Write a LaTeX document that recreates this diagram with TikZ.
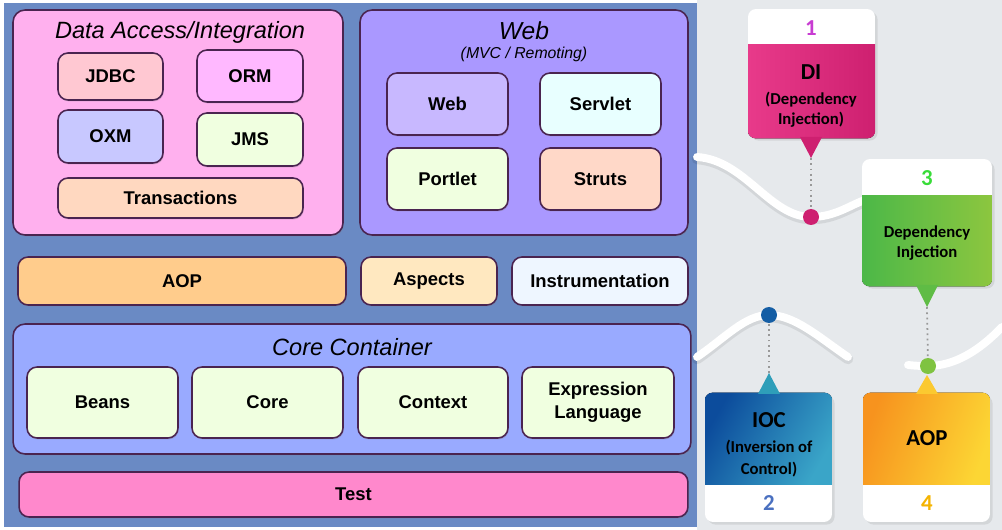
\documentclass[tikz,border=0pt]{standalone}
\usepackage{fontspec}
\setmainfont{Liberation Sans}
\newfontfamily\callfont{Carlito}
\usepackage{tikz}
\usetikzlibrary{positioning, shadows, calc}
% left panel
\definecolor{panelbg}{RGB}{106,138,196}
\definecolor{edge}{RGB}{74,36,80}
\definecolor{dataouter}{RGB}{255,176,238}
\definecolor{webouter}{RGB}{170,152,255}
\definecolor{jdbcfill}{RGB}{255,200,210}
\definecolor{ormfill}{RGB}{255,184,255}
\definecolor{oxmfill}{RGB}{200,200,255}
\definecolor{paleg}{RGB}{240,255,224}
\definecolor{transfill}{RGB}{255,216,192}
\definecolor{webfill}{RGB}{200,184,255}
\definecolor{servletfill}{RGB}{232,255,255}
\definecolor{strutsfill}{RGB}{255,216,200}
\definecolor{aopfill}{RGB}{255,204,140}
\definecolor{aspectsfill}{RGB}{255,232,192}
\definecolor{instrfill}{RGB}{238,246,255}
\definecolor{corefill}{RGB}{153,170,255}
\definecolor{testfill}{RGB}{255,136,204}
% right panel
\definecolor{rightbg}{RGB}{230,233,236}
\definecolor{pinkA}{RGB}{232,58,138}
\definecolor{pinkB}{RGB}{206,32,112}
\definecolor{greenA}{RGB}{76,184,72}
\definecolor{greenB}{RGB}{140,198,63}
\definecolor{blueA}{RGB}{12,76,156}
\definecolor{blueB}{RGB}{58,165,200}
\definecolor{orangeA}{RGB}{247,147,30}
\definecolor{orangeB}{RGB}{252,214,52}
\definecolor{numA}{RGB}{200,60,210}
\definecolor{numB}{RGB}{74,112,192}
\definecolor{numC}{RGB}{56,220,56}
\definecolor{numD}{RGB}{245,180,0}
\newcommand{\modfont}{\fontsize{10.5}{13}\selectfont\bfseries}
\newcommand{\titlefont}{\fontsize{13.4}{15}\selectfont\itshape}

\begin{document}
\begin{tikzpicture}[
        x=0.02cm, y=-0.02cm,
        mod/.style={draw=edge, line width=0.9pt, rounded corners=0.2cm, align=center, inner sep=0pt,
            font=\modfont, drop shadow={shadow xshift=0.5pt, shadow yshift=-0.8pt, opacity=0.3}},
        group/.style={mod, rounded corners=0.24cm},
        title/.style={font=\titlefont, inner sep=0pt},
        cardbox/.style={fill=white, rounded corners=0.16cm, inner sep=0pt,
            drop shadow={shadow xshift=1.5pt, shadow yshift=-1.5pt, opacity=0.18}},
        cardnum/.style={font=\callfont\fontsize{13}{15}\selectfont\bfseries, inner sep=0pt},
        cardhead/.style={font=\callfont\fontsize{13}{15}\selectfont\bfseries, inner sep=0pt},
        cardtext/.style={font=\callfont\fontsize{9.5}{11.3}\selectfont\bfseries, align=center, inner sep=0pt},
        spot/.style={circle, minimum size=0.32cm, inner sep=0pt},
        dotline/.style={draw=gray!80, line width=1pt, dotted},
        road/.style={draw=white, line width=4.5pt, line cap=round}
    ]
    \useasboundingbox (0,0) rectangle (1002,530);

    % Backgrounds
    \fill[white] (0,0) rectangle (1002,530);
    \fill[panelbg] (4,3) rectangle (697,527);
    \fill[rightbg] (697,0) rectangle (1002,530);

    % Data Access / Web groups
    \node[group, fill=dataouter, minimum width=6.6cm, minimum height=4.5cm] (data) at (178,122.5) {};
    \node[title] (datatitle) at (180,32) {Data Access/Integration};
    \node[mod, fill=jdbcfill, minimum width=2.1cm, minimum height=0.94cm] (jdbc) at (110.5,76.5) {JDBC};
    \node[mod, fill=ormfill, minimum width=2.12cm, minimum height=1.04cm] (orm) at (250,76) {ORM};
    \node[mod, fill=oxmfill, minimum width=2.1cm, minimum height=1.06cm] (oxm) at (110.5,136.5) {OXM};
    \node[mod, fill=paleg, minimum width=2.12cm, minimum height=1.06cm] (jms) at (250,139.5) {JMS};
    \node[mod, fill=transfill, minimum width=4.9cm, minimum height=0.8cm] (trans) at (180.5,198) {Transactions};

    \node[group, fill=webouter, minimum width=6.56cm, minimum height=4.5cm] (webgrp) at (524,122.5) {};
    \node[title, font=\fontsize{14}{16}\selectfont\itshape] (webtitle) at (524,31) {Web};
    \node[title, font=\fontsize{9}{10}\selectfont\itshape] (websub) at (524,54) {(MVC / Remoting)};
    \node[mod, fill=webfill, minimum width=2.42cm, minimum height=1.24cm] (web) at (447.5,104) {Web};
    \node[mod, fill=servletfill, minimum width=2.42cm, minimum height=1.24cm] (servlet) at (600.5,104) {Servlet};
    \node[mod, fill=paleg, minimum width=2.42cm, minimum height=1.24cm] (portlet) at (447.5,179) {Portlet};
    \node[mod, fill=strutsfill, minimum width=2.42cm, minimum height=1.24cm] (struts) at (600.5,179) {Struts};

    % AOP row
    \node[mod, fill=aopfill, minimum width=6.56cm, minimum height=0.96cm] (aop) at (182,281) {AOP};
    \node[mod, fill=aspectsfill, minimum width=2.72cm, minimum height=0.96cm] (aspects) at (429,281) {Aspects};
    \node[mod, fill=instrfill, minimum width=3.52cm, minimum height=0.96cm] (instr) at (600,281) {Instrumentation};

    % Core Container
    \node[group, fill=corefill, minimum width=13.56cm, minimum height=2.6cm] (container) at (352,389) {};
    \node[title] (coretitle) at (352,347) {Core Container};
    \node[mod, fill=paleg, minimum width=3.02cm, minimum height=1.42cm] (beans) at (102.5,402.5) {Beans};
    \node[mod, fill=paleg, minimum width=3.02cm, minimum height=1.42cm] (core) at (267.5,402.5) {Core};
    \node[mod, fill=paleg, minimum width=3.0cm, minimum height=1.42cm] (context) at (433,402.5) {Context};
    \node[mod, fill=paleg, minimum width=3.04cm, minimum height=1.42cm] (expr) at (598,402.5) {Expression\\Language};

    % Test
    \node[mod, fill=testfill, minimum width=13.38cm, minimum height=0.9cm] (test) at (353.5,494.5) {Test};

    % Roads
    \draw[road, draw=black, opacity=0.08, line width=6pt] (697,159) .. controls (745,162) and (770,219) .. (811,219) .. controls (835,219) and (850,207) .. (865,202);
    \draw[road] (697,157) .. controls (745,160) and (770,217) .. (811,217) .. controls (835,217) and (850,205) .. (865,200);
    \draw[road, draw=black, opacity=0.08, line width=6pt] (697,359) .. controls (725,340) and (745,317) .. (769,317) .. controls (795,317) and (820,340) .. (848,359);
    \draw[road] (697,357) .. controls (725,338) and (745,315) .. (769,315) .. controls (795,315) and (820,338) .. (848,357);
    \draw[road] (908,365) .. controls (918,366) and (922,366) .. (928,366) .. controls (955,366) and (980,350) .. (1002,327);

    % Card 1: DI
    \node[cardbox, minimum width=2.54cm, minimum height=2.58cm] (card1) at (811.5,73.5) {};
    \begin{scope}
        \clip[rounded corners=0.16cm] (card1.north west) rectangle (card1.south east);
        \fill[left color=pinkA, right color=pinkB] (748,45) rectangle (875,140);
    \end{scope}
    \coordinate (tip1) at (811,158);
    \fill[pinkB] (800,137) -- (822,137) -- (tip1) -- cycle;
    \node[cardnum, text=numA] (num1) at (811,28) {1};
    \node[cardhead] (di) at (811,72) {DI};
    \node[cardtext] (ditext) at (811,110) {(Dependency\\Injection)};

    % Card 3: Dependency Injection
    \node[cardbox, minimum width=2.6cm, minimum height=2.54cm] (card3) at (927,222.5) {};
    \begin{scope}
        \clip[rounded corners=0.16cm] (card3.north west) rectangle (card3.south east);
        \fill[left color=greenA, right color=greenB] (862,196) rectangle (992,288);
    \end{scope}
    \coordinate (tip3) at (927,307);
    \fill[greenA!70!greenB] (916,285) -- (938,285) -- (tip3) -- cycle;
    \node[cardnum, text=numC] (num3) at (927,178) {3};
    \node[cardtext] (ditext3) at (927,243) {Dependency\\Injection};

    % Card 2: IOC
    \node[cardbox, minimum width=2.54cm, minimum height=2.58cm] (card2) at (768.5,457.5) {};
    \begin{scope}
        \clip[rounded corners=0.16cm] (card2.north west) rectangle (card2.south east);
        \fill[left color=blueA, right color=blueB, shading angle=60] (705,391) rectangle (832,485);
    \end{scope}
    \coordinate (tip2) at (769,373);
    \fill[blueB!80!teal] (758,394) -- (780,394) -- (tip2) -- cycle;
    \node[cardnum, text=numB] (num2) at (769,503) {2};
    \node[cardhead] (ioc) at (769,420) {IOC};
    \node[cardtext, font=\callfont\fontsize{9.5}{12.5}\selectfont\bfseries] (ioctext) at (769,459) {(Inversion of\\Control)};

    % Card 4: AOP
    \node[cardbox, minimum width=2.54cm, minimum height=2.58cm] (card4) at (926.5,457.5) {};
    \begin{scope}
        \clip[rounded corners=0.16cm] (card4.north west) rectangle (card4.south east);
        \fill[left color=orangeA, right color=orangeB, shading angle=70] (863,391) rectangle (990,485);
    \end{scope}
    \coordinate (tip4) at (927,375);
    \fill[orangeB!80!orangeA] (916,394) -- (938,394) -- (tip4) -- cycle;
    \node[cardnum, text=numD] (num4) at (927,503) {4};
    \node[cardhead] (aopcard) at (927,438) {AOP};

    % Spots and dotted links
    \node[spot, fill=pinkB] (spot1) at (811,217) {};
    \node[spot, fill=blueA!80!blueB] (spot2) at (769,315) {};
    \node[spot, fill=greenB!80!greenA] (spot3) at (928,366) {};
    \draw[dotline] (tip1) -- (spot1);
    \draw[dotline] (tip3) -- (spot3);
    \draw[dotline] (tip2) -- (spot2);

\end{tikzpicture}
\end{document}
